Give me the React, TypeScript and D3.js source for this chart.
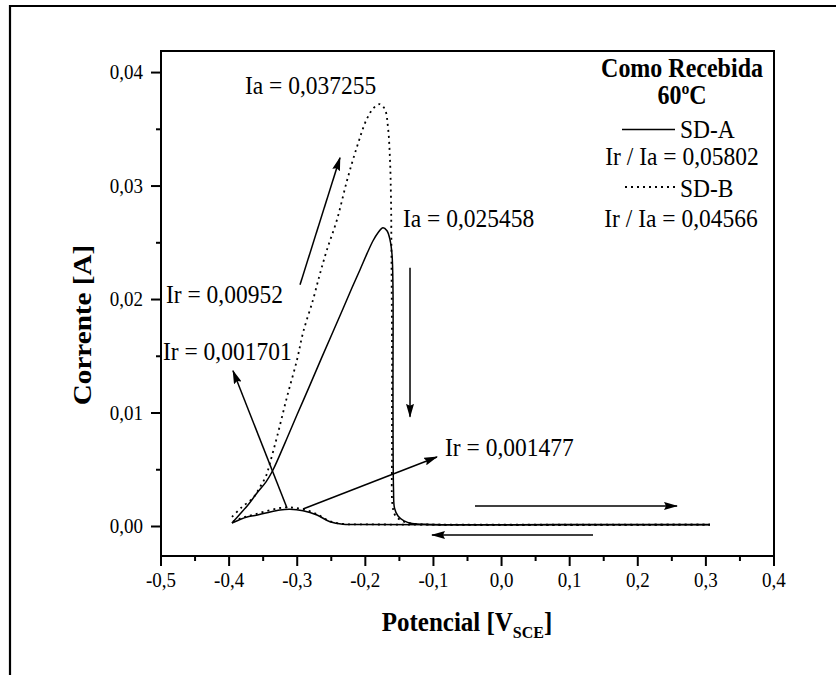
import React from 'react';
import * as d3 from 'd3';

// ---------- data ----------
const X_TICKS = [-0.5, -0.4, -0.3, -0.2, -0.1, 0.0, 0.1, 0.2, 0.3, 0.4];
const X_MINOR = [-0.45, -0.35, -0.25, -0.15, -0.05, 0.05, 0.15, 0.25, 0.35];
const Y_TICKS = [0.0, 0.01, 0.02, 0.03, 0.04];
const Y_MINOR = [0.005, 0.015, 0.025, 0.035];
const X_DOMAIN = [-0.5, 0.4];
const Y_DOMAIN = [-0.0026, 0.0419];

// SD-A (solid) forward scan [V, A]
const SDA_FORWARD: [number, number][] = [
  [-0.3958, 0.00031], [-0.384, 0.0011], [-0.3723, 0.0019], [-0.3591, 0.00295],
  [-0.3458, 0.00393], [-0.3356, 0.00498], [-0.3179, 0.00737], [-0.3003, 0.00984],
  [-0.2812, 0.01248], [-0.2636, 0.01495], [-0.2475, 0.01716], [-0.2328, 0.01919],
  [-0.2196, 0.02104], [-0.2078, 0.02263], [-0.1976, 0.02404], [-0.1887, 0.02518],
  [-0.1814, 0.02589], [-0.1741, 0.02633], [-0.1682, 0.02606], [-0.1638, 0.02527],
  [-0.1608, 0.02395], [-0.1594, 0.02086], [-0.1594, 0.01116], [-0.1586, 0.00322],
  [-0.1572, 0.00163], [-0.152, 0.00093], [-0.1432, 0.00049], [-0.1315, 0.00026],
  [-0.1051, 0.00018], [0.0858, 0.00017], [0.306, 0.00018],
];
// SD-A (solid) reverse scan
const SDA_REVERSE: [number, number][] = [
  [0.306, 0.00015], [-0.0757, 0.00015], [-0.2078, 0.00018], [-0.2328, 0.00019],
  [-0.2519, 0.00042], [-0.271, 0.00101], [-0.2915, 0.00139], [-0.3106, 0.00152],
  [-0.3253, 0.00146], [-0.3444, 0.00122], [-0.362, 0.00097], [-0.3737, 0.00084],
  [-0.384, 0.00062], [-0.3958, 0.00031],
];
// SD-B (dotted) forward scan
const SDB_FORWARD: [number, number][] = [
  [-0.3958, 0.00084], [-0.3811, 0.00172], [-0.3649, 0.00251], [-0.3546, 0.00348],
  [-0.3458, 0.00445], [-0.34, 0.0056], [-0.3297, 0.00789], [-0.315, 0.01142],
  [-0.3003, 0.01469], [-0.2915, 0.01707], [-0.2768, 0.01998], [-0.2666, 0.02227],
  [-0.2563, 0.02439], [-0.2416, 0.02704], [-0.2269, 0.03048], [-0.2122, 0.03347],
  [-0.1976, 0.03594], [-0.1873, 0.03691], [-0.1785, 0.03722], [-0.1711, 0.03674],
  [-0.1667, 0.03515], [-0.1638, 0.03233], [-0.1623, 0.0288], [-0.1616, 0.02351],
  [-0.1608, 0.01557], [-0.1608, 0.00675], [-0.1601, 0.0019], [-0.1564, 0.00101],
  [-0.1462, 0.00049], [-0.1315, 0.00026], [-0.1051, 0.00017], [0.306, 0.00017],
];
// SD-B (dotted) reverse scan
const SDB_REVERSE: [number, number][] = [
  [0.306, 0.00016], [-0.0757, 0.00016], [-0.2078, 0.00019], [-0.2328, 0.00022],
  [-0.2519, 0.00046], [-0.271, 0.00108], [-0.2915, 0.00152], [-0.3106, 0.00168],
  [-0.3253, 0.00163], [-0.3444, 0.00137], [-0.362, 0.00108], [-0.3737, 0.0009],
  [-0.384, 0.0007], [-0.3958, 0.0004],
];

// arrows: [v1, i1, v2, i2] (tail -> head)
const ARROWS: [number, number, number, number][] = [
  [-0.2959, 0.0213, -0.2372, 0.0325],
  [-0.1344, 0.0228, -0.1344, 0.00966],
  [-0.2915, 0.00154, -0.0948, 0.00613],
  [-0.315, 0.00163, -0.3943, 0.01372],
  [-0.039, 0.00181, 0.2576, 0.00181],
  [0.1343, -0.00075, -0.1021, -0.00075],
];

// annotation labels: [text, v, i] (start / baseline)
const LABELS: [string, number, number][] = [
  ['Ia = 0,037255', -0.3767, 0.03815],
  ['Ia = 0,025458', -0.1447, 0.02642],
  ['Ir = 0,00952', -0.4927, 0.01971],
  ['Ir = 0,001701', -0.4971, 0.01469],
  ['Ir = 0,001477', -0.083, 0.00622],
];

const LEGEND_TITLE = ['Como Recebida', '60ºC'];
const SERIES_NAMES = ['SD-A', 'SD-B'];
const RATIOS = ['Ir / Ia = 0,05802', 'Ir / Ia = 0,04566'];

// ---------- layout ----------
const W = 839, H = 675;
const L = 161, R = 774, T = 51, B = 556;
const FONT = '"Liberation Serif", "Times New Roman", serif';
const SY = 1.1;
const DOT = '2,4';

const x = d3.scaleLinear().domain(X_DOMAIN).range([L, R]);
const y = d3.scaleLinear().domain(Y_DOMAIN).range([B, T]);
const line = d3
  .line<[number, number]>()
  .x((d) => x(d[0]))
  .y((d) => y(d[1]))
  .curve(d3.curveCatmullRom.alpha(0.5));

const fmtX = (v: number) => d3.format('.1f')(v).replace('.', ',').replace('−', '-');
const fmtY = (v: number) => d3.format('.2f')(v).replace('.', ',');

function Txt(props: {
  x: number; y: number; size: number; bold?: boolean; anchor?: string; children: React.ReactNode;
}) {
  const { x: tx, y: ty, size, bold, anchor, children } = props;
  return (
    <text
      transform={`translate(${tx},${ty}) scale(1,${SY})`}
      fontFamily={FONT}
      fontSize={size}
      fontWeight={bold ? 'bold' : 'normal'}
      textAnchor={anchor || 'start'}
      fill="#000"
    >
      {children}
    </text>
  );
}

export default function App() {
  return (
    <svg
      width={W}
      height={H}
      viewBox={`0 0 ${W} ${H}`}
      style={{ position: 'absolute', left: 0, top: 0, background: '#fff' }}
    >
      <defs>
        <marker
          id="ah"
          markerUnits="userSpaceOnUse"
          markerWidth={14}
          markerHeight={8}
          refX={13}
          refY={4}
          orient="auto"
        >
          <path d="M0,0 L14,4 L0,8 L2,4 Z" fill="#000" />
        </marker>
      </defs>
      <rect x={0} y={0} width={W} height={H} fill="#fff" />
      {/* outer frame */}
      <path d={`M10,${H} L10,6 L836,6`} fill="none" stroke="#000" strokeWidth={2.2} />

      {/* curves */}
      <path d={line(SDB_FORWARD) || ''} fill="none" stroke="#000" strokeWidth={1.8} strokeDasharray={DOT} />
      <path d={line(SDB_REVERSE) || ''} fill="none" stroke="#000" strokeWidth={1.8} strokeDasharray={DOT} />
      <path d={line(SDA_FORWARD) || ''} fill="none" stroke="#000" strokeWidth={1.5} />
      <path d={line(SDA_REVERSE) || ''} fill="none" stroke="#000" strokeWidth={1.5} />

      {/* arrows */}
      {ARROWS.map((a, k) => (
        <line
          key={k}
          x1={x(a[0])}
          y1={y(a[1])}
          x2={x(a[2])}
          y2={y(a[3])}
          stroke="#000"
          strokeWidth={1.5}
          markerEnd="url(#ah)"
        />
      ))}

      {/* plot frame */}
      <rect x={L} y={T} width={R - L} height={B - T} fill="none" stroke="#000" strokeWidth={2} />

      {/* x ticks */}
      {X_TICKS.map((v) => (
        <g key={'xt' + v}>
          <line x1={x(v)} x2={x(v)} y1={B} y2={B + 10} stroke="#000" strokeWidth={2} />
          <Txt x={x(v)} y={587} size={19} anchor="middle">{fmtX(v)}</Txt>
        </g>
      ))}
      {X_MINOR.map((v) => (
        <line key={'xm' + v} x1={x(v)} x2={x(v)} y1={B} y2={B + 5} stroke="#000" strokeWidth={2} />
      ))}
      {/* y ticks */}
      {Y_TICKS.map((v) => (
        <g key={'yt' + v}>
          <line x1={L - 10} x2={L} y1={y(v)} y2={y(v)} stroke="#000" strokeWidth={2} />
          <Txt x={143} y={y(v) + 6.5} size={19} anchor="end">{fmtY(v)}</Txt>
        </g>
      ))}
      {Y_MINOR.map((v) => (
        <line key={'ym' + v} x1={L - 5} x2={L} y1={y(v)} y2={y(v)} stroke="#000" strokeWidth={2} />
      ))}

      {/* axis titles */}
      <text
        transform={`translate(467,631) scale(1,${SY})`}
        fontFamily={FONT}
        fontSize={25}
        fontWeight="bold"
        textAnchor="middle"
      >
        Potencial [V
        <tspan fontSize={16} dy={6}>SCE</tspan>
        <tspan dy={-6}>]</tspan>
      </text>
      <text
        transform={`translate(91,325) rotate(-90) scale(1.12,1)`}
        fontFamily={FONT}
        fontSize={26}
        fontWeight="bold"
        textAnchor="middle"
      >
        Corrente [A]
      </text>

      {/* annotations */}
      {LABELS.map((l, k) => (
        <Txt key={'lb' + k} x={x(l[1])} y={y(l[2])} size={23.5}>{l[0]}</Txt>
      ))}

      {/* legend */}
      <Txt x={682} y={77} size={24} bold anchor="middle">{LEGEND_TITLE[0]}</Txt>
      <Txt x={682} y={104} size={24} bold anchor="middle">{LEGEND_TITLE[1]}</Txt>
      <line x1={622} x2={675} y1={129.5} y2={129.5} stroke="#000" strokeWidth={1.5} />
      <Txt x={680} y={138} size={23.5}>{SERIES_NAMES[0]}</Txt>
      <Txt x={682} y={165} size={23.5} anchor="middle">{RATIOS[0]}</Txt>
      <line x1={625} x2={675} y1={187} y2={187} stroke="#000" strokeWidth={1.8} strokeDasharray={DOT} />
      <Txt x={680} y={197} size={23.5}>{SERIES_NAMES[1]}</Txt>
      <Txt x={681} y={227} size={23.5} anchor="middle">{RATIOS[1]}</Txt>
    </svg>
  );
}
